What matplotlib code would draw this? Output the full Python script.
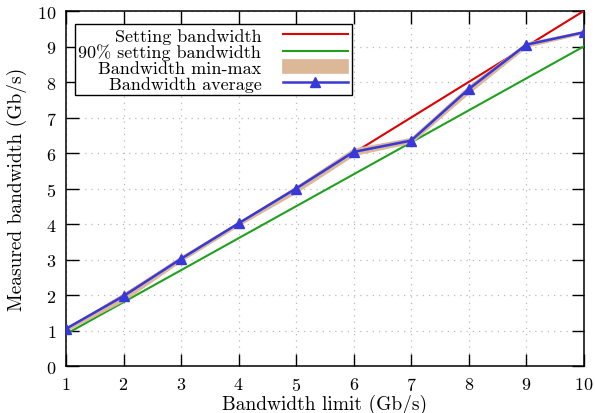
import matplotlib
matplotlib.use("Agg")
import matplotlib.pyplot as plt
import numpy as np

# data
limit = [1, 2, 3, 4, 5, 6, 7, 8, 9, 10]
setting = [1, 2, 3, 4, 5, 6, 7, 8, 9, 10]
setting90 = [0.9, 1.8, 2.7, 3.6, 4.5, 5.4, 6.3, 7.2, 8.1, 9.0]
bw_min = [1.0, 1.85, 2.97, 3.97, 4.9, 5.95, 6.3, 7.7, 9.0, 9.38]
bw_max = [1.07, 2.03, 3.08, 4.05, 5.05, 6.12, 6.42, 7.88, 9.1, 9.43]
bw_avg = [1.05, 1.97, 3.02, 4.02, 5.0, 6.03, 6.35, 7.8, 9.05, 9.4]

plt.rcParams['font.family'] = ['cmr10', 'DejaVu Serif']
plt.rcParams['axes.formatter.use_mathtext'] = True
plt.rcParams['font.size'] = 14

fig = plt.figure(figsize=(5.95, 4.14), dpi=100)
ax = fig.add_axes([0.111, 0.1135, 0.87, 0.8575])

ax.plot(limit, setting, color='#e00000', lw=1.5, label='Setting bandwidth', zorder=3)
ax.plot(limit, setting90, color='#1fa01f', lw=1.5, label='90% setting bandwidth', zorder=3)
ax.fill_between(limit, bw_min, bw_max, color='#dcb898', lw=1.2, edgecolor='#dcb898',
                label='Bandwidth min-max', zorder=4)
ax.plot(limit, bw_avg, color='#3838d8', lw=1.8, marker='^', ms=6.5,
        label='Bandwidth average', zorder=5)

ax.set_xlim(1, 10)
ax.set_ylim(0, 10)
ax.set_xticks(range(1, 11))
ax.set_yticks(range(0, 11))
ax.tick_params(direction='in', length=9, width=1, top=True, right=True, labelsize=13, pad=7)
ax.grid(True, color='#bbbbbb', linestyle=(0, (1, 4)), lw=0.9)
for s in ax.spines.values():
    s.set_linewidth(1.1)

ax.set_xlabel('Bandwidth limit (Gb/s)', labelpad=1)
ax.set_ylabel('Measured bandwidth (Gb/s)', labelpad=7)

handles, labels = ax.get_legend_handles_labels()
leg = ax.legend(handles, labels, loc='upper left', bbox_to_anchor=(0.017, 0.963),
                markerfirst=False, fancybox=False, framealpha=1, edgecolor='black',
                handlelength=3.6, handletextpad=1.2, labelspacing=0.0,
                borderpad=0.2, borderaxespad=0, fontsize=13)
leg.get_frame().set_linewidth(1.0)
leg.set_zorder(10)

plt.savefig("out.png", dpi=100)
